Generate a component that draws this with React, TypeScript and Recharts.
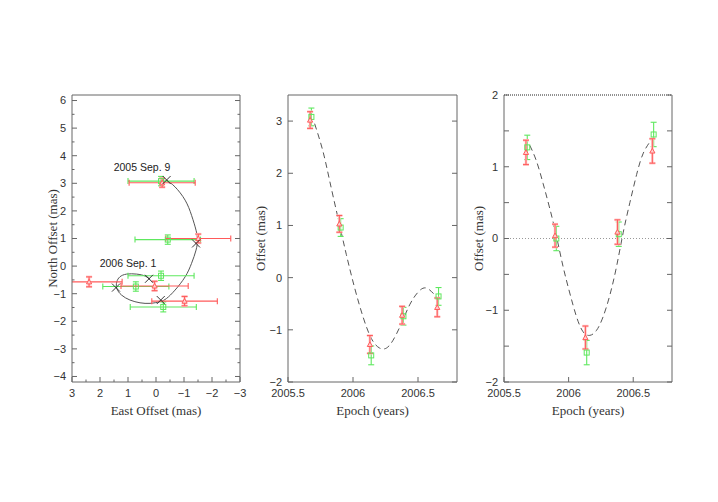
import {
  ComposedChart,
  Scatter,
  Line,
  XAxis,
  YAxis,
  ErrorBar,
  ReferenceLine,
  ReferenceDot,
} from 'recharts'

// observation epochs (years)
const redEpochs = [2005.67, 2005.895, 2006.13, 2006.378, 2006.648]
const greenEpochs = [2005.68, 2005.905, 2006.14, 2006.388, 2006.658]

// sky plane offsets (mas)
const redEast = [-0.22, -1.51, -1.02, 0.05, 2.39]
const redEastErr = [1.18, 1.16, 1.17, 1.2, 1.18]
const redNorth = [3.02, 1.0, -1.27, -0.72, -0.57]
const redNorthErr = [0.16, 0.16, 0.17, 0.17, 0.18]
const greenEast = [-0.18, -0.42, -0.26, 0.72, -0.18]
const greenEastErr = [1.18, 1.17, 1.18, 1.18, 1.18]
const greenNorth = [3.08, 0.96, -1.48, -0.74, -0.35]
const greenNorthErr = [0.17, 0.17, 0.18, 0.17, 0.17]

// model positions at the epochs
const modelEast = [-0.38, -1.43, -0.17, 1.43, 0.25]
const modelNorth = [3.12, 0.82, -1.23, -0.78, -0.46]

// model track on the sky
const trackEast = [-0.38, -0.68, -1.04, -1.27, -1.43, -1.48, -1.43, -1.27, -1.04, -0.68, -0.38, -0.14, 0.21, 0.57, 0.93, 1.23, 1.4, 1.4, 1.29, 1.05, 0.69, 0.39, 0.21]
const trackNorth = [3.11, 2.87, 2.39, 1.84, 1.3, 0.94, 0.58, 0.1, -0.39, -0.87, -1.17, -1.29, -1.35, -1.33, -1.23, -1.05, -0.81, -0.57, -0.39, -0.29, -0.29, -0.36, -0.48]

const annotations = ['2005 Sep. 9', '2006 Sep. 1']
const annotationEast = [0.5, 1.0]
const annotationNorth = [3.59, 0.12]

// middle panel: offset vs epoch
const midRed = [3.02, 1.03, -1.28, -0.72, -0.57]
const midRedErr = [0.16, 0.16, 0.17, 0.17, 0.18]
const midGreen = [3.08, 0.96, -1.49, -0.74, -0.36]
const midGreenErr = [0.17, 0.17, 0.18, 0.17, 0.17]
const midCurveT = [2005.705, 2005.769, 2005.821, 2005.885, 2005.949, 2006.013, 2006.077, 2006.142, 2006.205, 2006.257, 2006.308, 2006.372, 2006.436, 2006.5, 2006.565, 2006.642]
const midCurveV = [2.95, 2.42, 1.85, 1.14, 0.44, -0.2, -0.75, -1.17, -1.35, -1.35, -1.2, -0.88, -0.52, -0.28, -0.2, -0.37]

// right panel: offset vs epoch
const rightRed = [1.2, 0.04, -1.38, 0.09, 1.22]
const rightRedErr = [0.17, 0.16, 0.16, 0.17, 0.17]
const rightGreen = [1.27, 0.0, -1.59, 0.06, 1.45]
const rightGreenErr = [0.17, 0.17, 0.17, 0.17, 0.17]
const rightCurveT = [2005.699, 2005.751, 2005.802, 2005.854, 2005.906, 2005.957, 2006.009, 2006.061, 2006.112, 2006.164, 2006.216, 2006.267, 2006.319, 2006.371, 2006.422, 2006.474, 2006.526, 2006.578, 2006.643]
const rightCurveV = [1.3, 1.08, 0.77, 0.42, 0.03, -0.39, -0.76, -1.09, -1.3, -1.35, -1.28, -1.09, -0.79, -0.39, 0.08, 0.5, 0.89, 1.19, 1.38]

// ticks
const eastMajor = [3, 2, 1, 0, -1, -2, -3]
const eastLabels = ['3', '2', '1', '0', '−1', '−2', '−3']
const eastMinor = [2.5, 1.5, 0.5, -0.5, -1.5, -2.5]
const northMajor = [6, 5, 4, 3, 2, 1, 0, -1, -2, -3, -4]
const northLabels = ['6', '5', '4', '3', '2', '1', '0', '−1', '−2', '−3', '−4']
const northMinor = [5.5, 4.5, 3.5, 2.5, 1.5, 0.5, -0.5, -1.5, -2.5, -3.5]
const epochMajor = [2005.5, 2006, 2006.5]
const epochLabels = ['2005.5', '2006', '2006.5']
const midMajor = [3, 2, 1, 0, -1, -2]
const midLabels = ['3', '2', '1', '0', '−1', '−2']
const rightMajor = [2, 1, 0, -1, -2]
const rightLabels = ['2', '1', '0', '−1', '−2']
const rightMinor = [1.5, 0.5, -0.5, -1.5]

const RED = '#ff5a5a'
const RED_PALE = '#ffc4c4'
const GREEN = '#5ee85e'
const AXIS = '#666'
const TICK_FONT = '"Liberation Sans", Arial, sans-serif'
const TITLE_FONT = '"Liberation Serif", "Times New Roman", serif'

type Side = 'bottom' | 'top' | 'left' | 'right'

function makeTick(side: Side, major: number[], labels: string[], majorLen: number, minorLen: number) {
  return (props: any) => {
    const x: number = props.x ?? 0
    const y: number = props.y ?? 0
    const v: number = props.payload?.value
    const idx = major.indexOf(v)
    const len = idx >= 0 ? majorLen : minorLen
    const text = idx >= 0 ? labels[idx] : ''
    const textProps = { fontFamily: TICK_FONT, fontSize: 11, fill: '#333' }
    if (side === 'bottom') {
      return (
        <g>
          <line x1={x} y1={y} x2={x} y2={y - len} stroke={AXIS} />
          {text && (
            <text x={x} y={y + 14.5} textAnchor="middle" {...textProps}>{text}</text>
          )}
        </g>
      )
    }
    if (side === 'top') {
      return <line x1={x} y1={y} x2={x} y2={y + len} stroke={AXIS} />
    }
    if (side === 'left') {
      return (
        <g>
          <line x1={x} y1={y} x2={x + len} y2={y} stroke={AXIS} />
          {text && (
            <text x={x - 6} y={y} dy="0.36em" textAnchor="end" {...textProps}>{text}</text>
          )}
        </g>
      )
    }
    return <line x1={x} y1={y} x2={x - len} y2={y} stroke={AXIS} />
  }
}

function XTitle(props: any) {
  const { viewBox, text } = props
  const cx = viewBox.x + viewBox.width / 2
  return (
    <text x={cx} y={viewBox.y + 32.5} textAnchor="middle" fontFamily={TITLE_FONT} fontSize={13} fill="#333">
      {text}
    </text>
  )
}

function YTitle(props: any) {
  const { viewBox, text, dx } = props
  const x = viewBox.x + dx
  const y = viewBox.y + viewBox.height / 2
  return (
    <text
      x={x}
      y={y}
      dy="0.35em"
      transform={`rotate(-90 ${x} ${y})`}
      textAnchor="middle"
      fontFamily={TITLE_FONT}
      fontSize={13}
      fill="#333"
    >
      {text}
    </text>
  )
}

function Triangle(props: any) {
  const { cx, cy } = props
  if (cx == null || cy == null) return <g />
  const s = 2.6
  return (
    <path
      d={`M${cx},${cy - s} L${cx + s},${cy + s * 0.8} L${cx - s},${cy + s * 0.8} Z`}
      fill="#ffd0d0"
      stroke={RED}
      strokeWidth={1}
    />
  )
}

function Square(props: any) {
  const { cx, cy } = props
  if (cx == null || cy == null) return <g />
  return <rect x={cx - 2.5} y={cy - 2.5} width={5} height={5} fill="none" stroke={GREEN} strokeWidth={1} />
}

function Cross(props: any) {
  const { cx, cy } = props
  if (cx == null || cy == null) return <g />
  const s = 4
  return (
    <path d={`M${cx - s},${cy - s} L${cx + s},${cy + s} M${cx - s},${cy + s} L${cx + s},${cy - s}`} stroke="#222" strokeWidth={0.9} />
  )
}

const zip = (xs: number[], ys: number[], exs?: number[], eys?: number[]) =>
  xs.map((x, i) => ({ x, y: ys[i], ex: exs ? exs[i] : 0, ey: eys ? eys[i] : 0 }))

const skyRed = zip(redEast, redNorth, redEastErr, redNorthErr)
const skyGreen = zip(greenEast, greenNorth, greenEastErr, greenNorthErr)
const skyModel = zip(modelEast, modelNorth)
const skyTrack = zip(trackEast, trackNorth)

const axisLine = { stroke: AXIS, strokeWidth: 1 }

function SkyPanel() {
  const xTicks = [...eastMajor, ...eastMinor]
  const yTicks = [...northMajor, ...northMinor]
  return (
    <ComposedChart width={250} height={430} margin={{ top: 94, right: 9, bottom: 0, left: 0 }}>
      <XAxis
        xAxisId={0}
        type="number"
        dataKey="x"
        domain={[-3, 3]}
        allowDataOverflow
        reversed
        ticks={xTicks}
        interval={0}
        tickSize={0}
        tickMargin={0}
        tickLine={false}
        height={48}
        axisLine={axisLine}
        tick={makeTick('bottom', eastMajor, eastLabels, 5, 2.5)}
        label={<XTitle text="East Offset (mas)" />}
      />
      <XAxis
        xAxisId="top"
        orientation="top"
        type="number"
        domain={[-3, 3]}
        allowDataOverflow
        reversed
        ticks={xTicks}
        interval={0}
        tickSize={0}
        tickMargin={0}
        tickLine={false}
        height={1}
        axisLine={axisLine}
        tick={makeTick('top', eastMajor, eastLabels, 5, 2.5)}
      />
      <YAxis
        yAxisId={0}
        type="number"
        dataKey="y"
        domain={[-4.2, 6.2]}
        allowDataOverflow
        ticks={yTicks}
        interval={0}
        tickSize={0}
        tickMargin={0}
        tickLine={false}
        width={72}
        axisLine={axisLine}
        tick={makeTick('left', northMajor, northLabels, 5, 2.5)}
        label={<YTitle text="North Offset (mas)" dx={52} />}
      />
      <YAxis
        yAxisId="right"
        orientation="right"
        type="number"
        domain={[-4.2, 6.2]}
        allowDataOverflow
        ticks={yTicks}
        interval={0}
        tickSize={0}
        tickMargin={0}
        tickLine={false}
        width={1}
        axisLine={axisLine}
        tick={makeTick('right', northMajor, northLabels, 5, 2.5)}
      />
      <Line
        data={skyTrack}
        dataKey="y"
        type="natural"
        stroke="#555"
        strokeWidth={1}
        dot={false}
        isAnimationActive={false}
      />
      <Scatter data={skyGreen} shape={Square} isAnimationActive={false}>
        <ErrorBar dataKey="ex" direction="x" width={3} stroke={GREEN} strokeWidth={1.1} />
        <ErrorBar dataKey="ey" direction="y" width={3} stroke={GREEN} strokeWidth={1.1} />
      </Scatter>
      <Scatter data={skyRed} shape={Triangle} isAnimationActive={false}>
        <ErrorBar dataKey="ex" direction="x" width={3} stroke={RED} strokeWidth={1.1} />
        <ErrorBar dataKey="ey" direction="y" width={3} stroke={RED_PALE} strokeWidth={2.5} />
        <ErrorBar dataKey="ey" direction="y" width={3} stroke={RED} strokeWidth={1} />
      </Scatter>
      <Scatter data={skyModel} shape={Cross} isAnimationActive={false} />
      {annotations.map((a, i) => (
        <ReferenceDot
          key={a}
          x={annotationEast[i]}
          y={annotationNorth[i]}
          r={0}
          stroke="none"
          label={{ value: a, position: 'center', fontFamily: TICK_FONT, fontSize: 10.5, fill: '#222' }}
        />
      ))}
    </ComposedChart>
  )
}

function TimePanel(p: {
  width: number
  marginRight: number
  yWidth: number
  yDomain: [number, number]
  yTicks: number[]
  yMajor: number[]
  yLabels: string[]
  red: number[]
  redErr: number[]
  green: number[]
  greenErr: number[]
  curveT: number[]
  curveV: number[]
  titleDx: number
  zeroLine?: boolean
}) {
  const red = zip(redEpochs, p.red, undefined, p.redErr)
  const green = zip(greenEpochs, p.green, undefined, p.greenErr)
  const curve = zip(p.curveT, p.curveV)
  return (
    <ComposedChart width={p.width} height={430} margin={{ top: 94, right: p.marginRight, bottom: 0, left: 0 }}>
      <XAxis
        xAxisId={0}
        type="number"
        dataKey="x"
        domain={[2005.5, 2006.8]}
        allowDataOverflow
        ticks={epochMajor}
        interval={0}
        tickSize={0}
        tickMargin={0}
        tickLine={false}
        height={48}
        axisLine={axisLine}
        tick={makeTick('bottom', epochMajor, epochLabels, 5, 5)}
        label={<XTitle text="Epoch (years)" />}
      />
      <XAxis
        xAxisId="top"
        orientation="top"
        type="number"
        domain={[2005.5, 2006.8]}
        allowDataOverflow
        ticks={epochMajor}
        interval={0}
        tickSize={0}
        tickMargin={0}
        tickLine={false}
        height={1}
        axisLine={p.zeroLine ? { stroke: '#222', strokeWidth: 1, strokeDasharray: '1 1' } : axisLine}
        tick={makeTick('top', epochMajor, epochLabels, 5, 5)}
      />
      <YAxis
        yAxisId={0}
        type="number"
        dataKey="y"
        domain={p.yDomain}
        allowDataOverflow
        ticks={p.yTicks}
        interval={0}
        tickSize={0}
        tickMargin={0}
        tickLine={false}
        width={p.yWidth}
        axisLine={axisLine}
        tick={makeTick('left', p.yMajor, p.yLabels, 5, 5)}
        label={<YTitle text="Offset (mas)" dx={p.titleDx} />}
      />
      <YAxis
        yAxisId="right"
        orientation="right"
        type="number"
        domain={p.yDomain}
        allowDataOverflow
        ticks={p.yTicks}
        interval={0}
        tickSize={0}
        tickMargin={0}
        tickLine={false}
        width={1}
        axisLine={axisLine}
        tick={makeTick('right', p.yMajor, p.yLabels, 5, 5)}
      />
      {p.zeroLine && <ReferenceLine y={0} stroke="#999" strokeDasharray="1 2" strokeWidth={1.2} />}
      <Line
        data={curve}
        dataKey="y"
        type="natural"
        stroke="#555"
        strokeWidth={1}
        strokeDasharray="6 4"
        dot={false}
        isAnimationActive={false}
      />
      <Scatter data={green} shape={Square} isAnimationActive={false}>
        <ErrorBar dataKey="ey" direction="y" width={3} stroke={GREEN} strokeWidth={1.1} />
      </Scatter>
      <Scatter data={red} shape={Triangle} isAnimationActive={false}>
        <ErrorBar dataKey="ey" direction="y" width={3} stroke={RED_PALE} strokeWidth={2.5} />
        <ErrorBar dataKey="ey" direction="y" width={3} stroke={RED} strokeWidth={1} />
      </Scatter>
    </ComposedChart>
  )
}

export default function App() {
  return (
    <div style={{ position: 'absolute', left: 0, top: 0, width: 718, height: 502, background: '#fff' }}>
      <style>{'.sky .recharts-errorBar, .sky .recharts-scatter { clip-path: url(#sky-plot-area); }'}</style>
      <svg width={0} height={0} style={{ position: 'absolute' }}>
        <defs>
          <clipPath id="sky-plot-area">
            <rect x={72} y={95} width={168} height={287} />
          </clipPath>
        </defs>
      </svg>
      <div className="sky" style={{ position: 'absolute', left: 0, top: 0 }}>
        <SkyPanel />
      </div>
      <div style={{ position: 'absolute', left: 200, top: 0 }}>
        <TimePanel
          width={270}
          marginRight={12}
          yWidth={88}
          yDomain={[-2, 3.5]}
          yTicks={midMajor}
          yMajor={midMajor}
          yLabels={midLabels}
          red={midRed}
          redErr={midRedErr}
          green={midGreen}
          greenErr={midGreenErr}
          curveT={midCurveT}
          curveV={midCurveV}
          titleDx={60}
        />
      </div>
      <div style={{ position: 'absolute', left: 420, top: 0 }}>
        <TimePanel
          width={270}
          marginRight={17}
          yWidth={84}
          yDomain={[-2, 2]}
          yTicks={[...rightMajor, ...rightMinor]}
          yMajor={rightMajor}
          yLabels={rightLabels}
          red={rightRed}
          redErr={rightRedErr}
          green={rightGreen}
          greenErr={rightGreenErr}
          curveT={rightCurveT}
          curveV={rightCurveV}
          titleDx={58}
          zeroLine
        />
      </div>
    </div>
  )
}
